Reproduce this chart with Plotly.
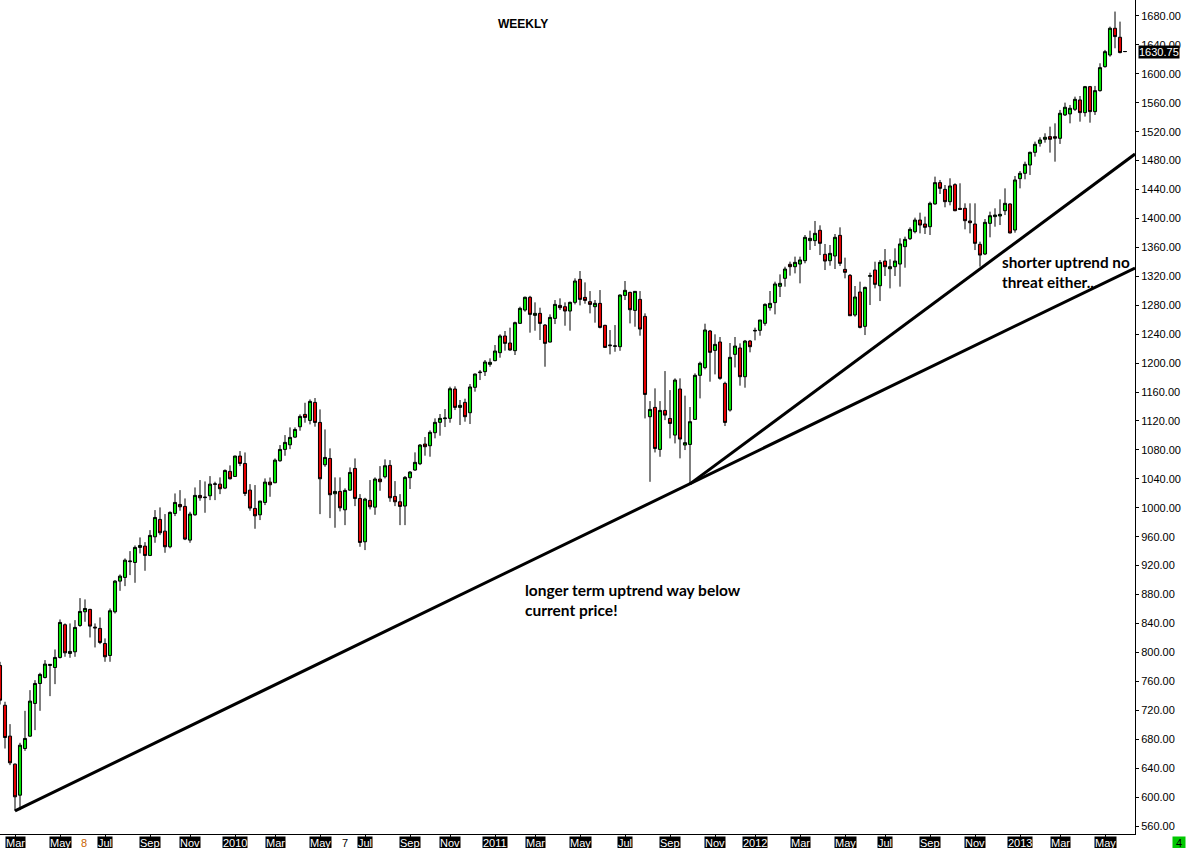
import plotly.graph_objects as go

# ── Weekly bars, index 0 = week of 2 Mar 2009 ─────────────────────────────────
FIRST_WEEK = -3

OPENS = [
    782, 727, 684.3, 645.6, 602.7, 667.2, 684.3, 729.5, 757.1, 765.4,
    782, 779.2, 793.1, 838.3, 798.6, 800.9, 837.3, 856.2, 859.5, 835,
    833.2, 812.4, 795.8, 856.2, 898.6, 903.7, 925.5, 924.4, 945.2, 947,
    934.1, 959.9, 983.9, 967.7, 946.1, 992.2, 1004.6, 1001.9, 955.3, 990.3,
    1017.1, 1014, 1016.6, 1032.4, 1032.7, 1027.2, 1050.3, 1043.3, 1071.5, 1061.3,
    1024.4, 999.1, 990.3, 1007.4, 1035.5, 1034.6, 1065, 1080.7, 1087.1, 1097.7,
    1112, 1129.1, 1120.8, 1145.7, 1118, 1059.5, 1068.2, 1019.4, 1022.6, 997.2,
    1024.4, 1054.4, 1012.9, 953, 1010.2, 1000.9, 1039.7, 1042.9, 1058.6, 1015.7,
    1008.3, 1002.4, 1041.6, 1052.2, 1060.9, 1088.1, 1085.8, 1103.8, 1118.1, 1123.2,
    1123.6, 1164.2, 1138.8, 1145.7, 1131.4, 1166.5, 1186.8, 1188.2, 1198.3, 1203.4,
    1214.4, 1237.5, 1227.8, 1217.2, 1255, 1273.4, 1291, 1266, 1268.8, 1252.6,
    1229.1, 1261.8, 1279.8, 1278, 1272, 1284, 1315.8, 1290.9, 1284.9, 1278,
    1282.6, 1252.2, 1224, 1223.2, 1222.7, 1293.6, 1297.8, 1272.9, 1288.1, 1264.6,
    1125.9, 1138.8, 1080.7, 1134.6, 1123.5, 1100.5, 1164.2, 1086.7, 1087.6, 1122.2,
    1183.1, 1193.7, 1244.4, 1217.6, 1229.2, 1172, 1135.1, 1212.1, 1220.9, 1181.2,
    1230.5, 1244.4, 1245.3, 1255, 1276.6, 1283.6, 1306.2, 1317.2, 1336.6, 1333.3,
    1337, 1341.6, 1369.3, 1369.3, 1383.6, 1350.4, 1341.6, 1348.1, 1376.6, 1329.6,
    1321.3, 1266.5, 1298.3, 1250.8, 1320, 1328.7, 1307, 1341.1, 1330.5, 1333.3,
    1337, 1361, 1372, 1381.7, 1397.8, 1392.3, 1388.6, 1420, 1449.5, 1440.2,
    1423.2, 1446.7, 1413.9, 1414, 1396.5, 1392.3, 1364.2, 1350.8, 1393.2, 1402.5,
    1403.4, 1410.7, 1420, 1384, 1455, 1462.4, 1473.9, 1491.4, 1503.9, 1509.4,
    1513.1, 1513, 1510.8, 1543.1, 1544.5, 1550.9, 1563.8, 1546.3, 1582.2, 1547.7,
    1576.7, 1609.9, 1626, 1662.9, 1650.5, 1630.75,
]
HIGHS = [
    787, 731.8, 700.9, 646.5, 675.1, 719.3, 747.9, 761.7, 771.9, 789.4,
    783.9, 804.1, 845.6, 840.1, 840.1, 844.7, 875.1, 873.3, 860.4, 840.1,
    848.4, 819.4, 860.8, 900, 907.8, 930, 940.1, 947.9, 959, 952.5,
    969.1, 996.8, 1000.5, 991.3, 995, 1019.8, 1024.4, 1012.9, 994.5, 1028.1,
    1038.3, 1036.4, 1043.8, 1036, 1042, 1053, 1058.6, 1072, 1078.4, 1076.5,
    1032.7, 1031.4, 1009.7, 1040.6, 1041.9, 1068.2, 1086.7, 1100.5, 1111.1, 1111.1,
    1129.1, 1145.2, 1149.8, 1151.7, 1136, 1108.3, 1082.1, 1042, 1042, 1026.8,
    1055.8, 1068.2, 1018.9, 1013.8, 1038.3, 1042, 1057.6, 1066.9, 1065.9, 1036.9,
    1018.9, 1043.9, 1050.8, 1076.6, 1088.1, 1097.8, 1107, 1123.6, 1129.6, 1136.5,
    1167.4, 1167.9, 1149, 1150.8, 1171.1, 1185.5, 1190.5, 1204.3, 1206.6, 1225,
    1239.8, 1244.4, 1249, 1257.3, 1278, 1292, 1293, 1284, 1276.6, 1254,
    1267.4, 1287.2, 1289.5, 1284, 1285, 1317.2, 1327.3, 1311.6, 1299.6, 1287.2,
    1301, 1253, 1245.7, 1252.6, 1295, 1313.5, 1298.7, 1299.6, 1299.6, 1268.8,
    1147.5, 1165.1, 1147.5, 1189, 1162.7, 1178.9, 1178.9, 1155, 1139.3, 1185.8,
    1202, 1254.5, 1245.8, 1239.8, 1236.1, 1174.3, 1227.8, 1236.1, 1227.3, 1232,
    1232, 1249, 1259.6, 1282.6, 1299.7, 1312.6, 1322.7, 1333.3, 1340.3, 1347.2,
    1347.2, 1377.1, 1383.1, 1396.5, 1390.5, 1364.7, 1363.3, 1378.5, 1387.7, 1345.8,
    1323.2, 1306.6, 1312.6, 1305.7, 1325, 1340.2, 1342.5, 1357.7, 1343.5, 1358.7,
    1372.5, 1374.8, 1387.7, 1401.1, 1408, 1402.5, 1423.2, 1457.8, 1453.2, 1446.2,
    1455.5, 1448.6, 1448.6, 1420.9, 1420.9, 1420.9, 1367.9, 1399.2, 1409.4, 1414,
    1426.4, 1441.6, 1420.9, 1458.7, 1465.6, 1478.5, 1492.4, 1506.2, 1512.2, 1517.7,
    1526.9, 1531.5, 1550, 1560.1, 1556.9, 1568.4, 1569.3, 1583.2, 1583.2, 1583.2,
    1614.5, 1633, 1665.2, 1686, 1672.1, 1631.5,
]
LOWS = [
    728, 667.2, 644.2, 581, 582, 664, 683.4, 692.6, 719.3, 764,
    739.6, 756.2, 791.7, 794, 792.6, 794, 835.5, 842.4, 820.7, 806.9,
    811.5, 787.1, 787.1, 853.9, 885.2, 891.7, 906.9, 896.3, 936.9, 912.9,
    933.2, 951.6, 962.2, 937.8, 944, 988.5, 995.9, 955.3, 951.6, 989,
    1009.7, 993.1, 1010.6, 1010.6, 1018.9, 1025.8, 1039.2, 1042.9, 1057.6, 1016.2,
    995.9, 971, 983, 1003.7, 1015.2, 1034, 1063.6, 1071.9, 1081.1, 1096.4,
    1106.5, 1117.6, 1115.3, 1112.1, 991.2, 1056.7, 985.7, 972.4, 995, 976,
    1023.5, 1002.3, 946.1, 941.5, 997.7, 990.3, 1023.5, 1040.6, 1008.3, 1002.3,
    976, 976, 1025.9, 1051, 1059, 1072, 1070.6, 1096, 1099.6, 1111.6,
    1117.6, 1135.1, 1114.4, 1119, 1115.8, 1160.5, 1176.6, 1182.2, 1195, 1202.5,
    1207.5, 1217.2, 1217.2, 1211.2, 1254.1, 1271.1, 1242.1, 1244.8, 1231.9, 1195,
    1228.6, 1254, 1273.4, 1251.7, 1244.8, 1281.2, 1279.8, 1282.1, 1268.8, 1255.9,
    1248, 1221.3, 1212.1, 1215.7, 1217, 1287.2, 1254.9, 1250.3, 1237.9, 1123.5,
    1035.9, 1076.5, 1070.5, 1121.2, 1095.9, 1089, 1068.3, 1079.8, 1032.3, 1121.7,
    1151.2, 1191.4, 1174.3, 1184.4, 1177, 1113, 1133, 1194, 1168.8, 1166,
    1214.9, 1231.5, 1237.9, 1251.7, 1272.5, 1267.4, 1291.4, 1305.7, 1320.9, 1324.1,
    1310.3, 1338, 1356.4, 1361.9, 1349.4, 1328.7, 1334.7, 1330.1, 1334.2, 1317.2,
    1265.1, 1264.2, 1248, 1238.8, 1280.3, 1303.3, 1285.8, 1320.4, 1303.3, 1320.4,
    1305.7, 1331.9, 1370.2, 1379.4, 1379.4, 1378.5, 1377.1, 1419.1, 1433.8, 1415.4,
    1418.1, 1410, 1411.7, 1384.9, 1379.4, 1356.3, 1333.3, 1349.4, 1373.9, 1388.6,
    1390.9, 1404.7, 1379.4, 1380.3, 1441.6, 1454.1, 1460.1, 1485.4, 1499.3, 1504.8,
    1491, 1478.5, 1503, 1541.7, 1531.5, 1548.6, 1533.8, 1540.8, 1532.4, 1543.1,
    1575.3, 1608.5, 1623.7, 1635.3, 1628.3, 1630,
]
CLOSES = [
    734, 682.4, 647.4, 600.4, 671.8, 681.1, 732.7, 757.1, 769.6, 783.9,
    783.5, 793.1, 841.5, 799.5, 801.4, 834.6, 856.7, 860.8, 836.4, 834,
    813.8, 794, 857.6, 898.6, 905.5, 927.6, 926.3, 945.2, 947.9, 934.1,
    961.8, 986.6, 965.4, 946.1, 993.6, 1007.4, 1001.4, 956.7, 991.3, 1017.1,
    1013.8, 1014.6, 1032.7, 1033, 1026.3, 1051.6, 1040.1, 1071.5, 1061.3, 1019.8,
    999.6, 988.9, 1009.2, 1035.5, 1031.8, 1065.9, 1080.7, 1090.4, 1097.3, 1108.3,
    1126.3, 1124.9, 1147.1, 1118, 1040.1, 1069.6, 1018, 1022.6, 1000, 1024,
    1048.9, 1012.9, 952.1, 1012, 1001.4, 1039.7, 1036, 1058.1, 1013.8, 1008.3,
    1001.9, 1042, 1049.4, 1062.8, 1086.7, 1084.4, 1104.3, 1118.1, 1123.6, 1124,
    1164.6, 1138.8, 1141.6, 1125.9, 1167, 1184.9, 1187.5, 1201.5, 1201.1, 1216.7,
    1237.5, 1227.3, 1218.1, 1255.9, 1275.7, 1291, 1267.4, 1268.8, 1254.9, 1227.3,
    1263.2, 1281.2, 1276.6, 1272, 1284, 1313.5, 1288.1, 1286.7, 1281.2, 1282.6,
    1249.4, 1221.7, 1224.8, 1223.8, 1294.1, 1300.6, 1273.8, 1299.2, 1247.1, 1156.7,
    1136, 1082, 1134.6, 1128.1, 1116.6, 1176.6, 1095, 1090, 1119, 1183.1,
    1199.7, 1245.8, 1214.9, 1225.9, 1178.9, 1118, 1208, 1223.6, 1181.2, 1230.5,
    1222.7, 1245.2, 1259.6, 1281.2, 1282.6, 1309.4, 1310.3, 1330.1, 1333.3, 1339.3,
    1342.6, 1373.9, 1372.5, 1379.4, 1365.6, 1341.1, 1351.7, 1373.9, 1337.9, 1325.5,
    1265.5, 1291.4, 1249.4, 1304.7, 1320.8, 1308.9, 1339.3, 1333.3, 1333.3, 1341.1,
    1364.7, 1371.1, 1384.9, 1397.8, 1390.9, 1387.7, 1420.9, 1449.5, 1441.6, 1423.2,
    1444.9, 1410.7, 1412.6, 1396.9, 1394.1, 1365.6, 1349.4, 1394.6, 1403.8, 1404.7,
    1405.7, 1420.9, 1379.9, 1453.2, 1462.4, 1474.8, 1491.4, 1502.5, 1508.5, 1512.2,
    1509.4, 1511, 1545.4, 1553.7, 1552.3, 1564.7, 1546.3, 1582.2, 1547.7, 1576.7,
    1608.5, 1630.6, 1662.9, 1651.4, 1629.3, 1630.75,
]
LAST_PRICE = 1630.75

# first bar of each month that gets a label
MONTH_TICKS = [0, 9, 18, 27, 35, 44, 52, 61, 70, 79, 87, 96, 104,
               113, 122, 131, 140, 148, 157, 166, 174, 183, 192, 201, 209, 218]
MONTH_LABELS = ["Mar", "May", "Jul", "Sep", "Nov", "2010", "Mar", "May", "Jul",
                "Sep", "Nov", "2011", "Mar", "May", "Jul", "Sep", "Nov", "2012",
                "Mar", "May", "Jul", "Sep", "Nov", "2013", "Mar", "May"]

PRICE_TICKS = list(range(560, 1681, 40))

# hand-drawn trendlines (week index, price)
LONG_TREND_X = [0, 224]
LONG_TREND_Y = [581, 1331.5]
SHORT_TREND_X = [135, 224]
SHORT_TREND_Y = [1033, 1489]

X_RANGE = [-3, 224]
Y_RANGE = [549, 1702]

weeks = list(range(FIRST_WEEK, FIRST_WEEK + len(CLOSES)))

fig = go.Figure()

fig.add_trace(go.Candlestick(
    x=weeks, open=OPENS, high=HIGHS, low=LOWS, close=CLOSES,
    increasing=dict(fillcolor="#00e400", line=dict(color="black", width=1)),
    decreasing=dict(fillcolor="#e40000", line=dict(color="black", width=1)),
    whiskerwidth=0,
    showlegend=False,
))

for tx, ty in [(LONG_TREND_X, LONG_TREND_Y), (SHORT_TREND_X, SHORT_TREND_Y)]:
    fig.add_trace(go.Scatter(
        x=tx, y=ty, mode="lines",
        line=dict(color="black", width=3),
        showlegend=False, hoverinfo="skip",
    ))

# ── Annotations ───────────────────────────────────────────────────────────────
LABEL_FONT = dict(family="Liberation Sans, Arial", size=11)

notes = []
for pos, lab in zip(MONTH_TICKS, MONTH_LABELS):
    notes.append(dict(
        x=pos, y=0, xref="x", yref="paper", text=lab, showarrow=False,
        xanchor="center", yanchor="top", yshift=-2,
        bgcolor="black", borderpad=0,
        font=dict(LABEL_FONT, color="white"),
    ))
for pos, lab, col in [(13.8, "8", "#c86400"), (66, "7", "black")]:
    notes.append(dict(
        x=pos, y=0, xref="x", yref="paper", text=lab, showarrow=False,
        xanchor="center", yanchor="top", yshift=-1,
        font=dict(LABEL_FONT, color=col),
    ))

notes += [
    # current price tag on the price axis
    dict(x=1.0, y=LAST_PRICE, xref="paper", yref="y",
         text=f"{LAST_PRICE:.2f}", showarrow=False, xanchor="left", xshift=3,
         bgcolor="black", borderpad=0,
         font=dict(LABEL_FONT, color="white")),
    dict(x=1.033, y=0, xref="paper", yref="paper", text=" 4 ", showarrow=False,
         xanchor="left", yanchor="top", yshift=-2, bgcolor="#00c800", borderpad=0,
         font=dict(LABEL_FONT, color="black")),
    dict(x=0.461, y=0.971, xref="paper", yref="paper", text="<b>WEEKLY</b>",
         showarrow=False, xanchor="center", yanchor="middle",
         font=dict(family="Liberation Sans, Arial", size=12, color="black")),
    dict(x=0.461, y=0.281, xref="paper", yref="paper",
         text="<b>longer term uptrend way below<br>current price!</b>",
         showarrow=False, xanchor="left", yanchor="middle", align="left",
         font=dict(family="Lato", size=15.5, color="black")),
    dict(x=0.881, y=0.674, xref="paper", yref="paper",
         text="<b>shorter uptrend no<br>threat either...</b>",
         showarrow=False, xanchor="left", yanchor="middle", align="left",
         font=dict(family="Lato", size=15.3, color="black")),
]

fig.update_layout(
    width=1187, height=848,
    paper_bgcolor="white", plot_bgcolor="white",
    margin=dict(l=0, r=52, t=0, b=14),
    annotations=notes,
    showlegend=False,
    boxgap=0.12,
    font=dict(family="Liberation Sans, Arial", size=11, color="black"),
)
fig.update_xaxes(
    range=X_RANGE, rangeslider_visible=False,
    showgrid=False, zeroline=False,
    showline=True, linecolor="black", linewidth=1,
    tickvals=MONTH_TICKS, ticktext=[""] * len(MONTH_TICKS),
    ticks="outside", ticklen=3, tickcolor="black",
)
fig.update_yaxes(
    range=Y_RANGE, side="right",
    showgrid=False, zeroline=False,
    showline=True, linecolor="black", linewidth=1,
    tickvals=PRICE_TICKS, tickformat=".2f",
    ticks="outside", ticklen=3, tickcolor="black",
    tickfont=dict(LABEL_FONT, color="black"),
)

# page body has a default 8px margin; drop it so the chart fills the window
fig.write_html("out.html", config={"displayModeBar": False},
               post_script="document.body.style.margin='0';")
